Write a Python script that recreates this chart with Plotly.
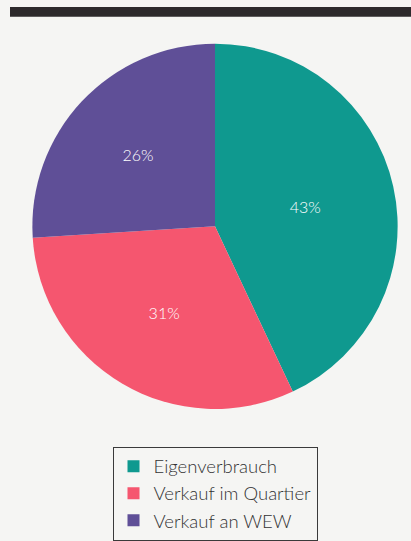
import plotly.graph_objects as go

labels = ["Eigenverbrauch", "Verkauf im Quartier", "Verkauf an WEW"]
values = [43, 31, 26]
colors = ["#0f998f", "#f5566f", "#5f4f97"]

W, H = 411, 541
cx, cy, r = 215, 228, 184

fig = go.Figure(go.Pie(
    labels=labels,
    values=values,
    sort=False,
    direction="clockwise",
    rotation=0,
    marker=dict(colors=colors, line=dict(width=0)),
    textinfo="percent",
    texttemplate="%{percent:.0%}",
    textposition="inside",
    insidetextorientation="horizontal",
    textfont=dict(color="white", size=16, family="Lato", weight=300),
    domain=dict(x=[(cx - r) / W, (cx + r) / W], y=[1 - (cy + r) / H, 1 - (cy - r) / H]),
    hoverinfo="skip",
))

fig.update_layout(
    width=W, height=H,
    margin=dict(l=0, r=0, t=0, b=0),
    paper_bgcolor="#f5f5f3",
    plot_bgcolor="#f5f5f3",
    showlegend=True,
    legend=dict(
        x=215 / W, xanchor="center",
        y=1 - 450 / H, yanchor="top",
        bgcolor="rgba(0,0,0,0)",
        bordercolor="#3a3a3a", borderwidth=1,
        font=dict(family="Lato", size=18.5, color="#333333", weight=300),
        tracegroupgap=0,
    ),
    shapes=[dict(
        type="rect", xref="paper", yref="paper",
        x0=10 / W, x1=1, y0=1 - 17 / H, y1=1 - 7 / H,
        fillcolor="#2d2a2c", line=dict(width=0),
    )],
)

fig.write_html("out.html")
